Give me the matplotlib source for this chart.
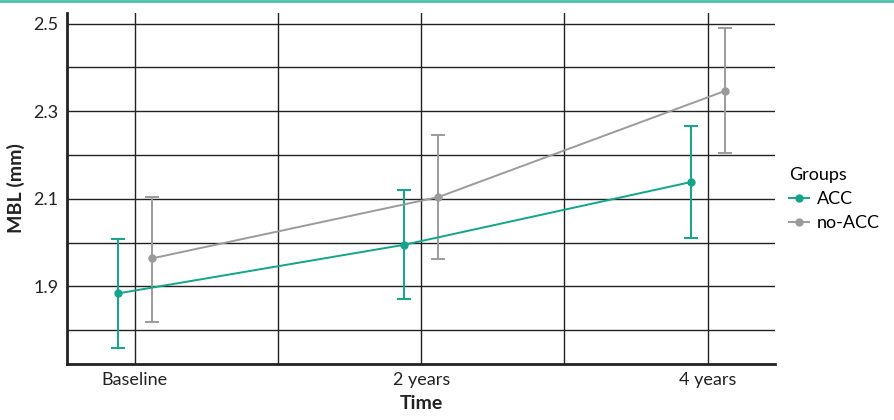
import numpy as np
import matplotlib
matplotlib.use("Agg")
from matplotlib import pyplot as plt
from matplotlib.lines import Line2D
from matplotlib.ticker import MultipleLocator

# data
time_labels = ["Baseline", "2 years", "4 years"]
groups = ["ACC", "no-ACC"]

acc_mean = [1.884, 1.995, 2.138]
acc_low = [1.759, 1.871, 2.011]
acc_high = [2.009, 2.121, 2.266]

noacc_mean = [1.964, 2.104, 2.346]
noacc_low = [1.819, 1.963, 2.205]
noacc_high = [2.105, 2.245, 2.490]

teal = "#12a58a"
grey = "#9b9b9b"

plt.rcParams['font.family'] = ['Lato', 'DejaVu Sans']

fig = plt.figure(figsize=(8.94, 4.2), dpi=100)
ax = fig.add_axes([67 / 894, 1 - 364 / 420, 708 / 894, 351 / 420])

x = np.arange(len(time_labels))
dodge = 0.06

series = [
    (acc_mean, acc_low, acc_high, teal, -dodge),
    (noacc_mean, noacc_low, noacc_high, grey, dodge),
]
handles = []
for (mean, low, high, col, off), name in zip(series, groups):
    mean = np.array(mean)
    yerr = [mean - np.array(low), np.array(high) - mean]
    ax.errorbar(x + off, mean, yerr=yerr, color=col, marker="o", markersize=5,
                linewidth=1.4, elinewidth=1.4, capsize=5, capthick=1.4, zorder=3)
    handles.append(Line2D([], [], color=col, marker="o", markersize=5,
                          linewidth=1.4, label=name))

ax.set_xlim(-0.237, 2.235)
ax.set_ylim(1.723, 2.524)
ax.set_xticks(x)
ax.set_xticklabels(time_labels)
ax.xaxis.set_minor_locator(MultipleLocator(0.5))
ax.set_yticks([1.9, 2.1, 2.3, 2.5])
ax.yaxis.set_minor_locator(MultipleLocator(0.1))

ax.grid(True, which="both", color="#222222", linewidth=1.0, zorder=0)
ax.set_axisbelow(True)
ax.tick_params(which="both", length=0, labelsize=13, colors="#222222", pad=6)

for side in ["top", "right"]:
    ax.spines[side].set_visible(False)
for side in ["left", "bottom"]:
    ax.spines[side].set_linewidth(2)
    ax.spines[side].set_color("#222222")

ax.set_xlabel("Time", fontsize=14, fontweight="bold", color="#222222", labelpad=5)
ax.set_ylabel("MBL (mm)", fontsize=14, fontweight="bold", color="#222222", labelpad=6)

leg = ax.legend(handles=handles, title="Groups", loc="center left",
                bbox_to_anchor=(1.0, 0.47), frameon=False, fontsize=13,
                title_fontsize=13, handlelength=1.1, handletextpad=0.4,
                borderaxespad=0.4, labelspacing=0.45)
leg._legend_box.align = "left"

# teal rule along the top edge
fig.add_artist(Line2D([0, 1], [0.998, 0.998], color="#4cc0ad", linewidth=2,
                      transform=fig.transFigure))

fig.savefig("out.png", dpi=100)
